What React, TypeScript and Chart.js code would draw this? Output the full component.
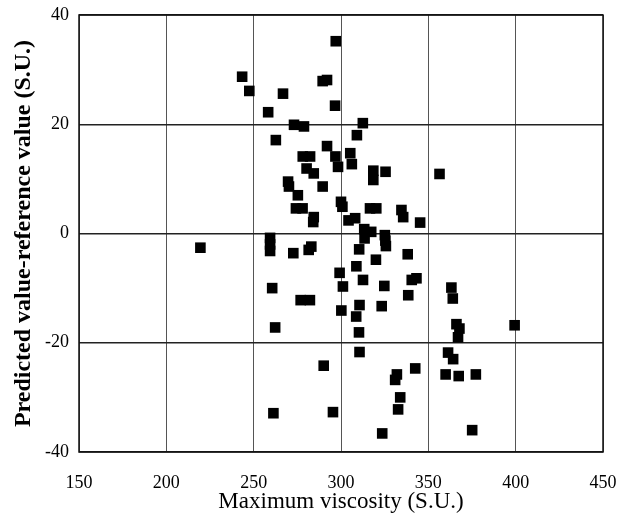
import React, { useEffect, useRef } from "react";
import { Chart, registerables } from "chart.js";

Chart.register(...registerables);

const viscosity: number[] = [
  243.4, 247.5, 266.8, 258.3, 297.0, 289.5, 292.0, 296.6, 273.1, 278.8,
  262.7, 312.5, 309.1, 292.0, 278.1, 282.3, 296.8, 298.3, 305.3, 306.2,
  280.3, 284.4, 289.5, 318.5, 325.5, 318.5, 269.7, 270.2, 275.3, 274.2,
  278.0, 284.4, 284.1, 300.0, 300.8, 304.3, 308.1, 316.6, 320.2, 313.3,
  317.3, 313.5, 334.6, 335.6, 345.3, 356.4,
  219.5, 259.4, 259.4, 259.4, 272.7, 281.5, 283.0, 260.6, 276.9, 282.2,
  262.3, 299.2, 301.1, 300.2, 310.4, 325.1, 325.4, 325.7, 308.8, 312.6,
  320.0, 324.8, 323.3, 310.6, 308.7, 310.3, 310.6, 290.1, 261.3, 295.4,
  323.6, 338.2, 338.5, 340.5, 343.2, 363.2, 364.0, 366.1, 367.8, 367.0,
  399.4, 361.3, 364.2, 359.9, 367.4, 377.2, 342.5, 332.0, 331.0, 333.9,
  332.7, 375.1,
];

const residual: number[] = [
  28.7, 26.1, 25.6, 22.2, 35.2, 27.9, 28.1, 23.4, 19.9, 19.6,
  17.1, 20.2, 18.0, 16.0, 14.1, 14.1, 14.1, 12.2, 14.7, 12.7,
  11.9, 11.0, 8.6, 11.5, 11.3, 9.8, 9.5, 8.6, 7.0, 4.6,
  4.6, 3.0, 2.1, 5.8, 4.9, 2.4, 2.8, 4.6, 4.6, 0.8,
  0.3, -0.9, 4.3, 3.0, 2.0, 10.9,
  -2.6, -0.8, -2.0, -3.2, -3.6, -3.0, -2.4, -10.0, -12.2, -12.2,
  -17.2, -7.2, -9.7, -14.1, -2.9, -0.3, -1.3, -2.3, -6.0, -8.5,
  -4.8, -9.6, -13.3, -13.1, -15.2, -18.1, -21.7, -24.2, -32.9, -32.7,
  -36.6, -3.8, -11.3, -8.5, -8.2, -9.9, -11.9, -16.6, -17.4, -19.0,
  -16.8, -21.8, -23.0, -25.8, -26.1, -25.8, -24.7, -25.8, -26.8, -30.0,
  -32.2, -36.0,
];

const xTitle = "Maximum viscosity (S.U.)";
const yTitle = "Predicted value-reference value (S.U.)";

const SERIF = "'Liberation Serif', 'Times New Roman', serif";

const frame = {
  id: "frame",
  afterDatasetsDraw(chart: any) {
    const { ctx, chartArea } = chart;
    ctx.save();
    ctx.strokeStyle = "#111";
    ctx.lineWidth = 1.5;
    ctx.strokeRect(chartArea.left, chartArea.top, chartArea.right - chartArea.left, chartArea.bottom - chartArea.top);
    ctx.restore();
  },
};

export default function App() {
  const ref = useRef<HTMLCanvasElement | null>(null);
  useEffect(() => {
    if (!ref.current) return;
    const points = viscosity.map((x, i) => ({ x, y: residual[i] }));
    const chart = new Chart(ref.current, {
      type: "scatter",
      data: {
        datasets: [
          {
            data: points,
            pointStyle: "rect",
            pointRadius: 7.5,
            pointHoverRadius: 7.5,
            backgroundColor: "#000",
            borderWidth: 0,
          },
        ],
      },
      options: {
        animation: false,
        responsive: true,
        maintainAspectRatio: false,
        layout: { padding: { top: 15, right: 29, left: 0, bottom: 0 } },
        plugins: { legend: { display: false }, tooltip: { enabled: false } },
        scales: {
          x: {
            type: "linear",
            min: 150,
            max: 450,
            afterFit: (s: any) => { s.height = 71; s.paddingLeft = 0; s.paddingRight = 0; },
            ticks: { stepSize: 50, color: "#000", font: { family: SERIF, size: 18 }, padding: 20 },
            grid: { color: "#555", lineWidth: 1, drawTicks: false },
            border: { display: false },
            title: { display: true, text: xTitle, color: "#000", font: { family: SERIF, size: 23 }, padding: { top: 0, bottom: 7 } },
          },
          y: {
            min: -40,
            max: 40,
            afterFit: (s: any) => { s.width = 79; s.paddingTop = 0; s.paddingBottom = 0; },
            ticks: { stepSize: 20, color: "#000", font: { family: SERIF, size: 18 }, padding: 10 },
            grid: { color: "#222", lineWidth: 1.5, drawTicks: false },
            border: { display: false },
            title: { display: true, text: yTitle, color: "#000", font: { family: SERIF, size: 24, weight: "bold" }, padding: { top: 9, bottom: 0 } },
          },
        },
      },
      plugins: [frame],
    });
    return () => chart.destroy();
  }, []);
  return (
    <div style={{ position: "absolute", left: 0, top: 0, width: 632, height: 523, background: "#fff" }}>
      <canvas ref={ref} />
    </div>
  );
}
